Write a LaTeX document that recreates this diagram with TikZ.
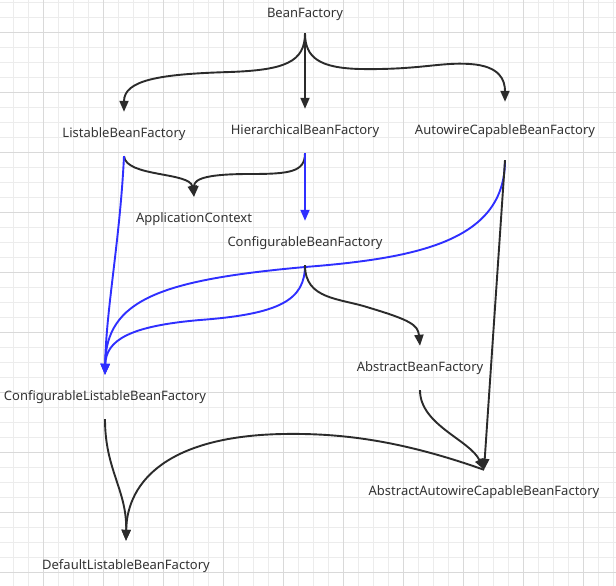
\documentclass[tikz,border=0pt]{standalone}
\usepackage{fontspec}
\setmainfont{Noto Sans}
\usepackage{xcolor}
\definecolor{Ink}{HTML}{333333}
\definecolor{Edge}{HTML}{2B2B2B}
\definecolor{Blue}{HTML}{2F2FFF}
\definecolor{GridMinor}{HTML}{ECECEC}
\definecolor{GridMajor}{HTML}{D9D9D9}
\usetikzlibrary{arrows.meta}
\tikzset{
  cls/.style={minimum height=44pt,inner sep=0pt,text=Ink,font=\fontsize{13}{15}\selectfont},
  arrow/.style={-{Triangle[length=11pt,width=9pt]},line width=1.9pt,draw=Edge},
  barrow/.style={arrow,draw=Blue}
}

\begin{document}
\begin{tikzpicture}[x=1pt,y=-1pt]
\useasboundingbox (0,0) rectangle (616,586);
\fill[white] (0,0) rectangle (616,586);
% grid
\foreach \gx in {13,28,...,613} \draw[GridMinor,line width=.8pt] (\gx,0) -- (\gx,586);
\foreach \gy in {2,17,...,586} \draw[GridMinor,line width=.8pt] (0,\gy) -- (616,\gy);
\foreach \gx in {43,103,...,583} \draw[GridMajor,line width=.8pt] (\gx,0) -- (\gx,586);
\foreach \gy in {32,92,...,572} \draw[GridMajor,line width=.8pt] (0,\gy) -- (616,\gy);

\node[cls,minimum height=38pt] (bf) at (305,14) {BeanFactory};
\node[cls] (lbf) at (124,134) {ListableBeanFactory};
\node[cls] (hbf) at (305,131) {HierarchicalBeanFactory};
\node[cls,minimum height=58pt] (acbf) at (505,131) {AutowireCapableBeanFactory};
\node[cls] (appctx) at (194,219) {ApplicationContext};
\node[cls] (cbf) at (305,243) {ConfigurableBeanFactory};
\node[cls] (abf) at (420,368) {AbstractBeanFactory};
\node[cls] (clbf) at (105,397) {ConfigurableListableBeanFactory};
\node[cls] (aacbf) at (484,492) {AbstractAutowireCapableBeanFactory};
\node[cls,minimum height=50pt] (dlbf) at (126,566) {DefaultListableBeanFactory};

\draw[arrow] (bf.south) .. controls (305,62) and (285,70) .. (230,72)
  .. controls (160,74) and (124,80) .. (lbf.north);
\draw[arrow] (bf.south) -- (hbf.north);
\draw[arrow] (bf.south) .. controls (305,58) and (320,68) .. (360,69)
  .. controls (420,70) and (440,62) .. (470,64)
  .. controls (500,66) and (505,80) .. (acbf.north);
\draw[arrow] (lbf.south) .. controls (126,177) and (190,172) .. (appctx.north);
\draw[arrow] (hbf.south) .. controls (305,172) and (290,174) .. (250,174)
  .. controls (210,174) and (194,178) .. (appctx.north);
\draw[barrow] (hbf.south) -- (cbf.north);
\draw[barrow] (lbf.south) .. controls (120,240) and (106,310) .. (clbf.north);
\draw[barrow] (acbf.south) .. controls (505,240) and (420,258) .. (305,267)
  .. controls (160,280) and (106,300) .. (clbf.north);
\draw[barrow] (cbf.south) .. controls (305,300) and (280,314) .. (200,320)
  .. controls (130,326) and (106,340) .. (clbf.north);
\draw[arrow] (cbf.south) .. controls (305,300) and (340,298) .. (370,308)
  .. controls (410,320) and (418,325) .. (abf.north);
\draw[arrow] (acbf.south) -- (aacbf.north);
\draw[arrow] (abf.south) .. controls (420,425) and (470,440) .. (aacbf.north);
\draw[arrow] (aacbf.north) .. controls (400,440) and (340,433) .. (283,434)
  .. controls (170,436) and (127,480) .. (dlbf.north);
\draw[arrow] (clbf.south) .. controls (105,470) and (127,490) .. (dlbf.north);
\end{tikzpicture}
\end{document}
